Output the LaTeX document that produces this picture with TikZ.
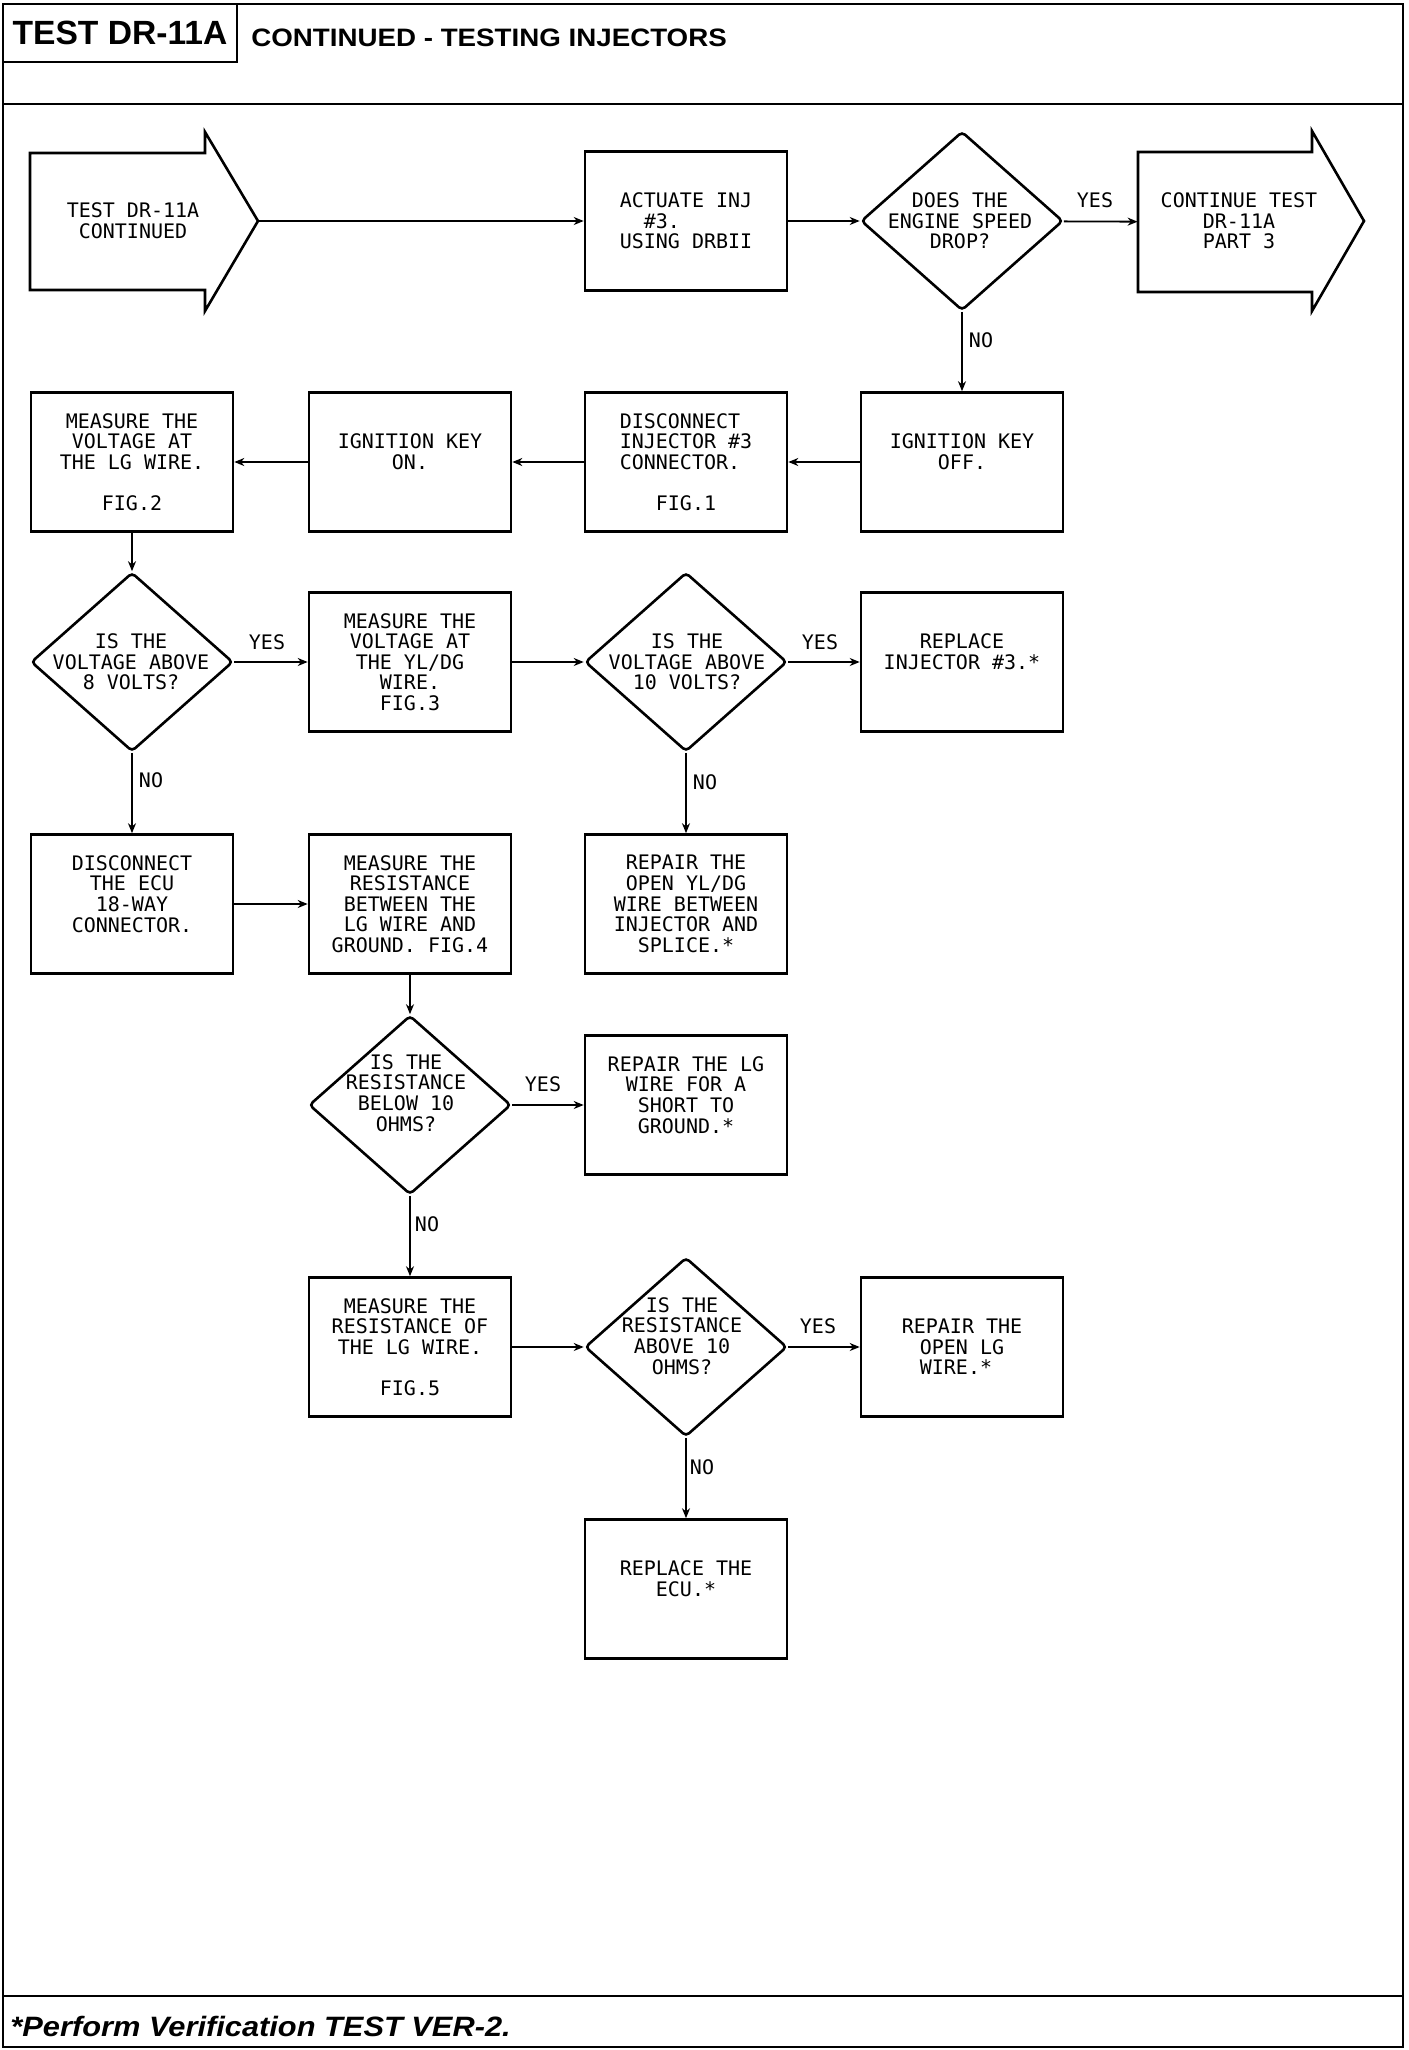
\documentclass[tikz,border=0pt]{standalone}
\usepackage{fontspec}
\setmainfont{Liberation Sans}
\newfontfamily\plotfont{DejaVu Sans Mono}
\usetikzlibrary{shapes.geometric,arrows.meta}
\begin{document}
\begin{tikzpicture}[x=0.5pt,y=-0.5pt,
  box/.style={draw, line width=1.3pt, minimum width=101pt, minimum height=69.5pt, inner sep=0pt, align=center, font=\plotfont\fontsize{10}{10.3}\selectfont},
  dia/.style={draw, diamond, line width=1.3pt, minimum width=101pt, minimum height=89.5pt, inner sep=0pt, rounded corners=2pt},
  txt/.style={inner sep=0pt, align=center, font=\plotfont\fontsize{10}{10.3}\selectfont},
  lbl/.style={inner sep=0pt, font=\plotfont\fontsize{10}{10}\selectfont},
  conn/.style={line width=0.9pt, -{Stealth[length=5pt,width=4pt]}},
  outline/.style={line width=1.3pt, line join=miter},
  frame/.style={line width=1.2pt},
]
\useasboundingbox (0,0) rectangle (1408,2050);
% frame and header
\draw[frame] (3,4) rectangle (1403,2047);
\draw[frame] (3,104) -- (1403,104);
\draw[frame] (3,1996) -- (1403,1996);
\node[draw, frame, minimum width=117pt, minimum height=29pt, inner sep=0pt,
      font=\bfseries\fontsize{16.8}{18}\selectfont] (title) at (120,33) {TEST DR-11A};
\node[anchor=west, inner sep=0pt] (subtitle) at (251,38)
  {\scalebox{1.1}[1]{\bfseries\fontsize{12.6}{14}\selectfont CONTINUED - TESTING INJECTORS}};
\node[anchor=west, inner sep=0pt] (foot) at (10,2026)
  {\scalebox{1.1}[1]{\bfseries\itshape\fontsize{14}{16}\selectfont *Perform Verification TEST VER-2.}};

% start arrow
\draw[outline] (30,153) -- (205,153) -- (205,132) -- (258,221) -- (205,311) -- (205,290) -- (30,290) -- cycle;
\coordinate (starttip) at (258,221);
\node[txt] (start) at (133,221) {TEST DR-11A\\CONTINUED};

% continue arrow
\draw[outline] (1138,152) -- (1312,152) -- (1312,131) -- (1364,221) -- (1312,311) -- (1312,292) -- (1138,292) -- cycle;
\node[inner sep=0pt, minimum width=87pt, minimum height=70pt] (cont) at (1225,222) {};
\node[txt] (contt) at (1239,221) {CONTINUE TEST\\DR-11A\\PART 3};

% row 1
\node[box] (act) at (686,221) {ACTUATE INJ\\\#3.\phantom{0000}\\USING DRBII};
\node[dia] (d1) at (962,221) {};
\node[txt] (d1t) at (960,221) {DOES THE\\ENGINE SPEED\\DROP?};

% row 2
\node[box] (ignoff) at (962,462) {IGNITION KEY\\OFF.\\\mbox{}};
\node[box, align=left] (discinj) at (686,462) {DISCONNECT\\INJECTOR \#3\\CONNECTOR.\\\mbox{}\\\phantom{000}FIG.1};
\node[box] (ignon) at (410,462) {IGNITION KEY\\ON.\\\mbox{}};
\node[box] (measlg) at (132,462) {MEASURE THE\\VOLTAGE AT\\THE LG WIRE.\\\mbox{}\\FIG.2};

% row 3
\node[dia] (d2) at (132,662) {};
\node[txt] (d2t) at (131,662) {IS THE\\VOLTAGE ABOVE\\8 VOLTS?};
\node[box] (measyl) at (410,662) {MEASURE THE\\VOLTAGE AT\\THE YL/DG\\WIRE.\\FIG.3};
\node[dia] (d3) at (686,662) {};
\node[txt] (d3t) at (687,662) {IS THE\\VOLTAGE ABOVE\\10 VOLTS?};
\node[box] (repinj) at (962,662) {REPLACE\\INJECTOR \#3.*\\\mbox{}};

% row 4
\node[box] (discecu) at (132,904) {DISCONNECT\\THE ECU\\18-WAY\\CONNECTOR.\\\mbox{}};
\node[box] (measres) at (410,904) {MEASURE THE\\RESISTANCE\\BETWEEN THE\\LG WIRE AND\\GROUND. FIG.4};
\node[box] (repyl) at (686,904) {REPAIR THE\\OPEN YL/DG\\WIRE BETWEEN\\INJECTOR AND\\SPLICE.*};

% row 5
\node[dia] (d4) at (410,1105) {};
\node[txt] (d4t) at (406,1093) {IS THE\\RESISTANCE\\BELOW 10\\OHMS?};
\node[box] (repshort) at (686,1105) {REPAIR THE LG\\WIRE FOR A\\SHORT TO\\GROUND.*\\\mbox{}};

% row 6
\node[box] (measresof) at (410,1347) {MEASURE THE\\RESISTANCE OF\\THE LG WIRE.\\\mbox{}\\FIG.5};
\node[dia] (d5) at (686,1347) {};
\node[txt] (d5t) at (682,1336) {IS THE\\RESISTANCE\\ABOVE 10\\OHMS?};
\node[box] (repopen) at (962,1347) {REPAIR THE\\OPEN LG\\WIRE.*\phantom{0}};

% row 7
\node[box] (repecu) at (686,1589) {REPLACE THE\\ECU.*\\\mbox{}};

% connectors
\draw[conn] (starttip) -- (act);
\draw[conn] (act) -- (d1);
\draw[conn] (d1) -- (cont);
\draw[conn] (d1) -- (ignoff);
\draw[conn] (ignoff) -- (discinj);
\draw[conn] (discinj) -- (ignon);
\draw[conn] (ignon) -- (measlg);
\draw[conn] (measlg) -- (d2);
\draw[conn] (d2) -- (measyl);
\draw[conn] (measyl) -- (d3);
\draw[conn] (d3) -- (repinj);
\draw[conn] (d2) -- (discecu);
\draw[conn] (d3) -- (repyl);
\draw[conn] (discecu) -- (measres);
\draw[conn] (measres) -- (d4);
\draw[conn] (d4) -- (repshort);
\draw[conn] (d4) -- (measresof);
\draw[conn] (measresof) -- (d5);
\draw[conn] (d5) -- (repopen);
\draw[conn] (d5) -- (repecu);

% labels
\node[lbl] (y1) at (1095,200) {YES};
\node[lbl] (n1) at (981,340) {NO};
\node[lbl] (y2) at (267,642) {YES};
\node[lbl] (n2) at (151,780) {NO};
\node[lbl] (y3) at (820,642) {YES};
\node[lbl] (n3) at (705,782) {NO};
\node[lbl] (y4) at (543,1084) {YES};
\node[lbl] (n4) at (427,1224) {NO};
\node[lbl] (y5) at (818,1326) {YES};
\node[lbl] (n5) at (702,1467) {NO};
\end{tikzpicture}
\end{document}
